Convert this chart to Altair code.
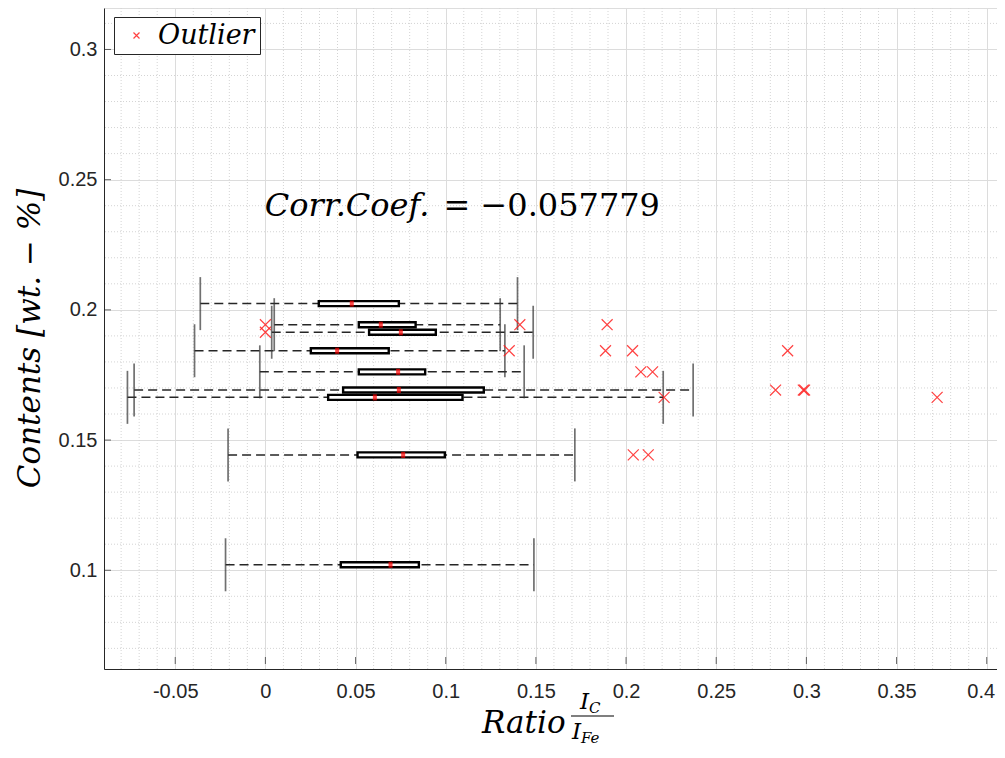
import altair as alt
import pandas as pd

# ---- data ----
contents = [0.2024, 0.1943, 0.1914, 0.1843, 0.1762, 0.1692, 0.1664, 0.1443, 0.1021]
whisker_low = [-0.0361, 0.0049, 0.0035, -0.0393, -0.0031, -0.0728, -0.0765, -0.0207, -0.0221]
q1 = [0.0296, 0.0518, 0.0575, 0.0252, 0.0518, 0.0431, 0.0348, 0.0511, 0.0418]
median = [0.0479, 0.0640, 0.0751, 0.0398, 0.0736, 0.0740, 0.0607, 0.0764, 0.0694]
q3 = [0.0740, 0.0833, 0.0945, 0.0684, 0.0886, 0.1211, 0.1093, 0.0995, 0.0851]
whisker_high = [0.1398, 0.1302, 0.1485, 0.1328, 0.1435, 0.2372, 0.2206, 0.1716, 0.1489]

outlier_ratio = [0.0000, 0.1411, 0.1895,
                 0.0000,
                 0.1352, 0.1886, 0.2036, 0.2896,
                 0.2082, 0.2147,
                 0.2829, 0.2983, 0.2990,
                 0.2211, 0.3725,
                 0.2040, 0.2123]
outlier_contents = [0.1943, 0.1943, 0.1943,
                    0.1914,
                    0.1843, 0.1843, 0.1843, 0.1843,
                    0.1762, 0.1762,
                    0.1692, 0.1692, 0.1692,
                    0.1664, 0.1664,
                    0.1443, 0.1443]

x_ticks = [-0.05, 0, 0.05, 0.1, 0.15, 0.2, 0.25, 0.3, 0.35, 0.4]
y_ticks = [0.1, 0.15, 0.2, 0.25, 0.3]
x_minor = [round(-0.08 + 0.01 * i, 2) for i in range(49)]
y_minor = [round(0.07 + 0.01 * i, 2) for i in range(25)]
x_minor = [v for v in x_minor if round(v * 100) % 5 != 0]
y_minor = [v for v in y_minor if round(v * 100) % 5 != 0]

corr_label = "Corr.Coef."
corr_value = "= \u22120.057779"
corr_pos = (-0.0003, 0.2362, 0.2188)

X_DOMAIN = [-0.0895, 0.4057]
Y_DOMAIN = [0.064, 0.314]

box_df = pd.DataFrame({"c": contents, "lo": whisker_low, "q1": q1,
                       "med": median, "q3": q3, "hi": whisker_high})
cap_df = pd.DataFrame({"c": contents + contents, "v": whisker_low + whisker_high})
out_df = pd.DataFrame({"r": outlier_ratio, "c": outlier_contents,
                       "k": ["Outlier"] * len(outlier_ratio)})

AX_COL = "#262626"
SERIF = "DejaVu Serif"
LBL = "datum.value < 0 ? '-' + format(-datum.value, '') : format(datum.value, '')"
xs = alt.Scale(domain=X_DOMAIN, nice=False, zero=False)
ys = alt.Scale(domain=Y_DOMAIN, nice=False, zero=False)
xax = alt.Axis(values=x_ticks, title=None, grid=True, gridColor="#dcdcdc", gridWidth=1,
               tickSize=0, labelPadding=12, domainColor=AX_COL, domainWidth=1,
               labelFont="Liberation Sans", labelFontSize=20, labelColor=AX_COL,
               labelExpr=LBL,
               labelOffset=alt.condition("datum.value > 0.39", alt.value(-6), alt.value(0)))
yax = alt.Axis(values=y_ticks, title="Contents [wt. \u2212 %]", grid=True, gridColor="#dcdcdc",
               gridWidth=1, tickSize=0, labelPadding=7, domainColor=AX_COL, domainWidth=1,
               labelFont="Liberation Sans", labelFontSize=20, labelColor=AX_COL,
               labelExpr=LBL,
               titleFont=SERIF, titleFontStyle="italic", titleFontWeight="normal",
               titleFontSize=31, titleColor="black", titleX=-74, titleY=330,
               titleAngle=270, titleAlign="center", titleBaseline="middle")


def X(f):
    return alt.X(f, type="quantitative", scale=xs, axis=xax)


def Y(f):
    return alt.Y(f, type="quantitative", scale=ys, axis=yax)


grid_x = alt.Chart(pd.DataFrame({"g": x_minor})).mark_rule(
    color="#d4d4d4", strokeWidth=1, strokeDash=[1, 2]).encode(x=X("g"))
grid_y = alt.Chart(pd.DataFrame({"g": y_minor})).mark_rule(
    color="#d4d4d4", strokeWidth=1, strokeDash=[1, 2]).encode(y=Y("g"))

whisk = alt.Chart(box_df).mark_rule(color="#262626", strokeWidth=1.5, strokeDash=[9, 5]).encode(
    x=X("lo"), x2="hi", y=Y("c"))
caps = alt.Chart(cap_df).mark_tick(orient="vertical", size=53, thickness=1.7, color="#333333").encode(
    x=X("v"), y=Y("c"))
boxes = alt.Chart(box_df).mark_bar(size=5, fill="white", stroke="black", strokeWidth=2.4,
                                   orient="horizontal").encode(x=X("q1"), x2="q3", y=Y("c"))
meds = alt.Chart(box_df).mark_tick(orient="vertical", size=6, thickness=4, color="#ff0000").encode(
    x=X("med"), y=Y("c"))

xshape = "M-1,-1L1,1M-1,1L1,-1"
outl = alt.Chart(out_df).mark_point(shape=xshape, filled=False, size=120, strokeWidth=1.2,
                                    opacity=0.85).encode(
    x=X("r"), y=Y("c"),
    color=alt.Color("k:N", scale=alt.Scale(domain=["Outlier"], range=["#ff2020"]),
                    legend=alt.Legend(title=None, orient="none", legendX=10, legendY=9,
                                      fillColor="white", strokeColor=AX_COL, padding=5,
                                      symbolType=xshape, symbolSize=36, symbolStrokeWidth=1.2,
                                      symbolOffset=4, labelOffset=8,
                                      labelFont=SERIF, labelFontStyle="italic",
                                      labelFontSize=27, labelColor="black", labelLimit=300)))

xt = alt.Chart(pd.DataFrame({"v": x_ticks})).mark_tick(
    orient="vertical", size=7, thickness=1, color=AX_COL).encode(
    x=X("v"), y=alt.datum(Y_DOMAIN[0]), yOffset=alt.value(-3.5))
yt = alt.Chart(pd.DataFrame({"v": y_ticks})).mark_tick(
    orient="horizontal", size=7, thickness=1, color=AX_COL).encode(
    y=Y("v"), x=alt.datum(X_DOMAIN[0]), xOffset=alt.value(3.5))

ann1 = alt.Chart(pd.DataFrame({"x": [corr_pos[0]], "y": [corr_pos[1]], "t": [corr_label]})).mark_text(
    align="left", baseline="alphabetic", font=SERIF, fontStyle="italic",
    fontSize=32, color="black").encode(x=X("x"), y=Y("y"), text="t:N")
ann2 = alt.Chart(pd.DataFrame({"x": [corr_pos[2]], "y": [corr_pos[1]], "t": [corr_value]})).mark_text(
    align="right", baseline="alphabetic", font=SERIF,
    fontSize=32, color="black").encode(x=X("x"), y=Y("y"), text="t:N")


def label(txt, px, py, size, italic=True):
    return alt.Chart(pd.DataFrame({"t": [txt]})).mark_text(
        align="left", baseline="alphabetic", font=SERIF,
        fontStyle="italic" if italic else "normal", fontSize=size, color="black").encode(
        x=alt.value(px), y=alt.value(py), text="t:N")


t_ratio = label("Ratio", 378, 725, 31)
t_num_i = label("I", 476, 701, 23)
t_num_c = label("C", 485, 705, 15)
t_den_i = label("I", 468, 731, 23)
t_den_f = label("Fe", 477, 735, 15)
frac = alt.Chart(pd.DataFrame({"t": [0]})).mark_rule(color="black", strokeWidth=1.2).encode(
    x=alt.value(467), x2=alt.value(510), y=alt.value(708))

chart = alt.layer(grid_x, grid_y, whisk, caps, boxes, meds, outl, xt, yt, ann1, ann2,
                  t_ratio, t_num_i, t_num_c, t_den_i, t_den_f, frac).properties(
    width=893, height=661,
    autosize=alt.AutoSizeParams(type="none"),
    padding={"left": 96, "top": 0, "right": 0, "bottom": 80},
).configure_view(strokeWidth=0).configure(background="white")

chart.save("out.html", embed_options={"renderer": "svg", "actions": False})
